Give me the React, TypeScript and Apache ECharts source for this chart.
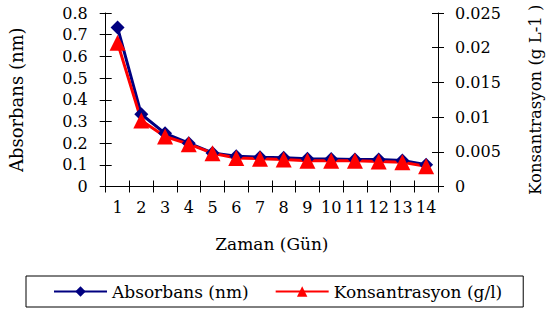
import React, { useEffect, useRef } from "react";
import * as echarts from "echarts";

const days = ["1", "2", "3", "4", "5", "6", "7", "8", "9", "10", "11", "12", "13", "14"];
const absorbans = [0.733, 0.333, 0.245, 0.2, 0.155, 0.14, 0.135, 0.133, 0.128, 0.127, 0.125, 0.125, 0.12, 0.1];
const konsantrasyon = [0.0207, 0.0095, 0.0072, 0.0061, 0.0048, 0.0041, 0.004, 0.0039, 0.0037, 0.0037, 0.0037, 0.0036, 0.0035, 0.0029];

const FONT = "DejaVu Serif";

export default function App() {
  const ref = useRef<HTMLDivElement>(null);
  useEffect(() => {
    if (!ref.current) return;
    const chart = echarts.init(ref.current, undefined, { renderer: "svg" });
    const axisLine = { show: true, lineStyle: { color: "#000", width: 1 } };
    const label = { color: "#000", fontSize: 16, fontFamily: FONT };
    chart.setOption({
      animation: false,
      backgroundColor: "#fff",
      textStyle: { fontFamily: FONT },
      grid: { left: 105.7, right: 110, top: 13, bottom: 125.5, containLabel: false, outerBoundsMode: "none" },
      legend: {
        data: ["Absorbans (nm)", "Konsantrasyon (g/l)"],
        left: 26,
        top: 276,
        orient: "horizontal",
        borderColor: "#000",
        borderWidth: 1,
        padding: [7, 21, 7, 27],
        itemGap: 26,
        itemWidth: 53,
        itemHeight: 13,
        textStyle: { color: "#000", fontSize: 17, fontFamily: FONT },
      },
      xAxis: [
        {
          type: "category",
          data: days,
          position: "bottom",
          boundaryGap: true,
          axisLine,
          axisTick: { show: true, length: 6, lineStyle: { color: "#000" } },
          axisLabel: { ...label, interval: 0, margin: 13 },
          name: "Zaman (Gün)",
          nameLocation: "middle",
          nameGap: 49,
          nameTextStyle: { color: "#000", fontSize: 17, fontFamily: FONT },
          splitLine: { show: false },
        },
        {
          type: "category",
          data: days,
          position: "bottom",
          boundaryGap: true,
          axisLine: { show: false },
          axisTick: { show: true, inside: true, length: 6, lineStyle: { color: "#000" } },
          axisLabel: { show: false },
          splitLine: { show: false },
        },
      ],
      yAxis: [
        {
          type: "value",
          min: 0,
          max: 0.8,
          interval: 0.1,
          position: "left",
          axisLine,
          axisTick: { show: true, length: 6, lineStyle: { color: "#000" } },
          axisLabel: { ...label, margin: 18 },
          splitLine: { show: false },
          name: "Absorbans (nm)",
          nameLocation: "middle",
          nameRotate: 90,
          nameGap: 80,
          nameTextStyle: { color: "#000", fontSize: 18, fontFamily: FONT },
        },
        {
          type: "value",
          min: 0,
          max: 0.025,
          interval: 0.005,
          position: "right",
          axisLine,
          axisTick: { show: true, length: 6, lineStyle: { color: "#000" } },
          axisLabel: { ...label, margin: 17 },
          splitLine: { show: false },
          name: "Konsantrasyon (g L-1 )",
          nameLocation: "middle",
          nameRotate: 90,
          nameGap: 89,
          nameTextStyle: { color: "#000", fontSize: 16.5, fontFamily: FONT },
        },
        {
          type: "value",
          min: 0,
          max: 0.8,
          interval: 0.1,
          position: "left",
          axisLine: { show: false },
          axisTick: { show: true, inside: true, length: 6, lineStyle: { color: "#000" } },
          axisLabel: { show: false },
          splitLine: { show: false },
        },
        {
          type: "value",
          min: 0,
          max: 0.025,
          interval: 0.005,
          position: "right",
          axisLine: { show: false },
          axisTick: { show: true, inside: true, length: 6, lineStyle: { color: "#000" } },
          axisLabel: { show: false },
          splitLine: { show: false },
        },
      ],
      series: [
        {
          name: "Absorbans (nm)",
          type: "line",
          data: absorbans,
          xAxisIndex: 0,
          yAxisIndex: 0,
          symbol: "diamond",
          symbolSize: 14,
          itemStyle: { color: "#000080" },
          lineStyle: { color: "#000080", width: 3 },
        },
        {
          name: "Konsantrasyon (g/l)",
          type: "line",
          data: konsantrasyon,
          xAxisIndex: 0,
          yAxisIndex: 1,
          symbol: "triangle",
          symbolSize: 16,
          itemStyle: { color: "#ff0000" },
          lineStyle: { color: "#ff0000", width: 3 },
        },
      ],
    });
    return () => chart.dispose();
  }, []);
  return <div ref={ref} style={{ width: 548, height: 312, position: "absolute", left: 0, top: 0 }} />;
}
